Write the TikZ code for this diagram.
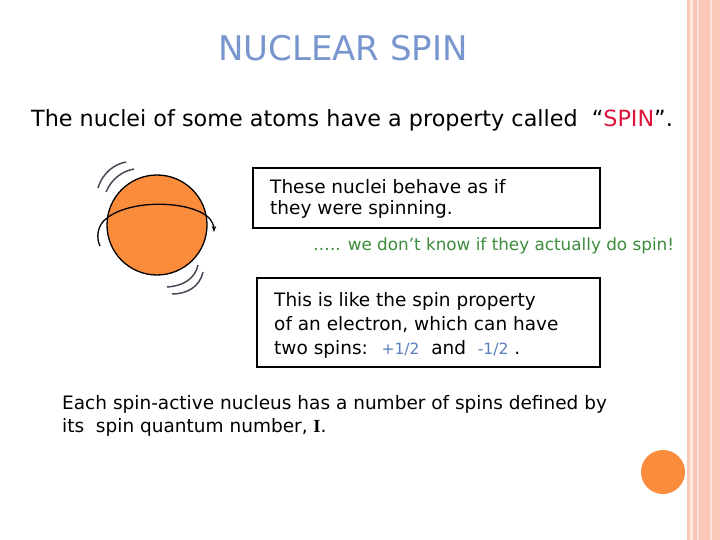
\documentclass[tikz,border=0pt]{standalone}
\usepackage{fontspec}
\setmainfont{DejaVu Sans}
\usetikzlibrary{arrows.meta}
\definecolor{ttl}{RGB}{120,150,205}
\definecolor{spin}{RGB}{220,20,60}
\definecolor{grn}{RGB}{60,140,60}
\definecolor{blu}{RGB}{90,125,190}
\definecolor{orng}{RGB}{250,140,60}
\definecolor{pnk}{RGB}{250,200,182}
\definecolor{mot}{RGB}{70,75,85}
\tikzset{
  txt/.style={anchor=west,inner sep=0pt,font=\fontsize{18.5}{22}\selectfont},
  box/.style={draw,line width=1.2pt},
  motion/.style={draw=mot,line width=1.5pt}
}
\begin{document}
\begin{tikzpicture}[x=1pt,y=-1pt]
\useasboundingbox (0,0) rectangle (720,540);
\fill[white] (0,0) rectangle (720,540);
% right border
\fill[pnk] (687,0) rectangle (720,540);
\fill[white!60!pnk] (690,0) rectangle (693,540);
\fill[white!50!pnk] (697,0) rectangle (699,540);
\fill[white!50!pnk] (710,0) rectangle (712,540);
% title
\node[inner sep=0pt,text=ttl,font=\fontsize{34}{40}\selectfont] (title) at (343,48) {NUCLEAR SPIN};
\node[txt,font=\fontsize{22.3}{26}\selectfont] (intro) at (31,120) {The nuclei of some atoms have a property called~ ``\textcolor{spin}{SPIN}''.};
% sphere
\node[circle,draw,line width=1.3pt,fill=orng,minimum size=100pt,inner sep=0pt] (ball) at (157,225) {};
\draw[line width=1.3pt] (107,218) .. controls (130,200) and (185,200) .. (207,216);
\draw[line width=1.3pt] (107,218) .. controls (97,225) and (96,238) .. (100,246);
\draw[line width=1.3pt,-{Stealth[length=6pt]}] (207,216) .. controls (212,220) and (214,226) .. (214,232);
\draw[motion] (98,188) .. controls (103,172) and (115,164) .. (126,162);
\draw[motion] (106,192) .. controls (112,178) and (123,171) .. (134,169);
\draw[motion] (198,265) .. controls (195,279) and (183,286) .. (167,287);
\draw[motion] (203,272) .. controls (200,286) and (188,294) .. (172,294);
% box 1
\node[box,minimum width=347pt,minimum height=60pt,inner sep=0pt] (b1) at (426.5,198) {};
\node[txt] (t1a) at (270,187) {These nuclei behave as if};
\node[txt] (t1b) at (270,209) {they were spinning.};
\node[txt,text=grn,font=\fontsize{16.8}{20}\selectfont] (g) at (313,246) {\dots.. we don’t know if they actually do spin!};
% box 2
\node[box,minimum width=343pt,minimum height=89pt,inner sep=0pt] (b2) at (428.5,322.5) {};
\node[txt] (t2a) at (274,301) {This is like the spin property};
\node[txt] (t2b) at (274,325) {of an electron, which can have};
\node[txt] (t2c) at (274,349) {two spins:~ \textcolor{blu}{\fontsize{15.5}{18}\selectfont +1/2}~ and~ \textcolor{blu}{\fontsize{15.5}{18}\selectfont -1/2} .};
% bottom
\node[txt] (e1) at (62,404) {Each spin-active nucleus has a number of spins defined by};
\node[txt] (e2) at (62,427) {its~ spin quantum number, \textbf{\fontspec{Liberation Serif}I}.};
\node[circle,fill=orng,minimum size=44pt,inner sep=0pt] (dot) at (663,472) {};
\end{tikzpicture}
\end{document}
